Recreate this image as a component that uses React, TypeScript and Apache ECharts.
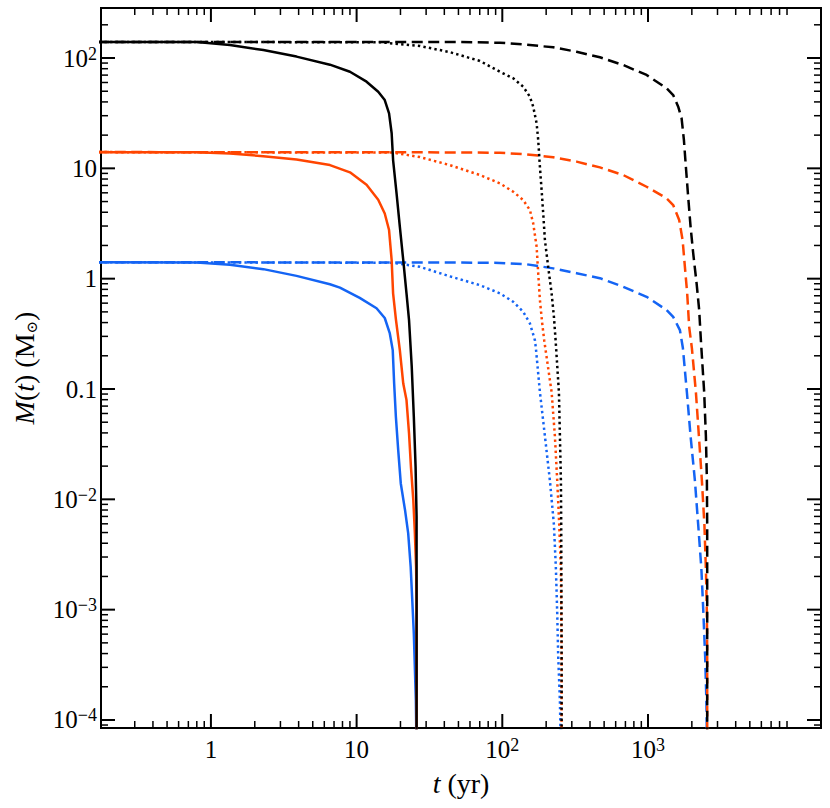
import React, { useEffect, useRef } from "react";
import * as echarts from "echarts";

// Axis extents (log scale)
const X_MIN = 0.176;
const X_MAX = 15400;
const Y_MIN = 8.46e-5;
const Y_MAX = 284;

// Tick values
const xMajorTicks = [1, 10, 100, 1000];
const xMinorTicks = [
  0.3, 0.4, 0.5, 0.6, 0.7, 0.8, 0.9,
  2, 3, 4, 5, 6, 7, 8, 9,
  20, 30, 40, 50, 60, 70, 80, 90,
  200, 300, 400, 500, 600, 700, 800, 900,
  2000, 3000, 4000, 5000, 6000, 7000, 8000, 9000,
];
const yMajorTicks = [1e-4, 1e-3, 1e-2, 0.1, 1, 10, 100];
const yMinorTicks = [
  9e-5,
  2e-4, 3e-4, 4e-4, 5e-4, 6e-4, 7e-4, 8e-4, 9e-4,
  2e-3, 3e-3, 4e-3, 5e-3, 6e-3, 7e-3, 8e-3, 9e-3,
  0.02, 0.03, 0.04, 0.05, 0.06, 0.07, 0.08, 0.09,
  0.2, 0.3, 0.4, 0.5, 0.6, 0.7, 0.8, 0.9,
  2, 3, 4, 5, 6, 7, 8, 9,
  20, 30, 40, 50, 60, 70, 80, 90,
  200,
];

// Tick labels (rich text: b = base, s = superscript)
const xTickValues = [1, 10, 100, 1000];
const xTickLabels = ["{b|1}", "{b|10}", "{b|10}{s|2}", "{b|10}{s|3}"];
const yTickValues = [1e-4, 1e-3, 1e-2, 0.1, 1, 10, 100];
const yTickLabels = [
  "{b|10}{s|\u22124}",
  "{b|10}{s|\u22123}",
  "{b|10}{s|\u22122}",
  "{b|0.1}",
  "{b|1}",
  "{b|10}",
  "{b|10}{s|2}",
];

// Series data: [t (yr), M (Msun)]
const blackSolid = [
  [0.1, 140], [0.8, 140], [1.35, 131], [2.29, 118], [3.87, 103], [6.56, 87],
  [9.0, 75], [11.7, 61], [14.07, 49.5], [15.6, 41.6], [16.7, 31.5], [17.4, 20.8],
  [17.8, 11.9], [18.8, 5.93], [19.8, 2.96], [20.9, 1.47], [22.0, 0.736],
  [22.9, 0.421], [23.9, 0.159], [24.7, 0.056], [25.4, 0.0197], [25.8, 0.00694],
  [25.8, 0.00005],
];
const orangeSolid = [
  [0.1, 14.0], [0.8, 14.0], [1.35, 13.6], [2.29, 12.9], [3.87, 12.0], [6.56, 10.7],
  [9.0, 9.2], [11.7, 7.1], [14.07, 5.2], [15.6, 3.9], [16.7, 2.76], [17.4, 1.47],
  [17.8, 0.736], [18.6, 0.43], [19.8, 0.225], [20.9, 0.112], [22.0, 0.0793],
  [22.9, 0.0396], [23.6, 0.0197], [24.5, 0.00984], [25.1, 0.005], [25.6, 0.00244],
  [25.8, 0.00122], [25.8, 0.00005],
];
const blueSolid = [
  [0.1, 1.41], [0.8, 1.4], [1.35, 1.34], [2.29, 1.22], [3.87, 1.06], [6.56, 0.89],
  [7.68, 0.83], [10.5, 0.67], [13.7, 0.54], [15.6, 0.44], [16.9, 0.319],
  [17.7, 0.225], [18.1, 0.112], [18.6, 0.056], [19.3, 0.0279], [20.1, 0.01393],
  [21.5, 0.00798], [22.6, 0.00491], [23.5, 0.00244], [24.1, 0.00122],
  [24.7, 0.000608], [25.1, 0.000303], [25.5, 0.000151], [25.8, 0.00005],
];
const blackDotted = [
  [0.1, 140], [14.5, 139], [27.2, 128.5], [43.7, 113], [70.2, 94], [96.3, 75.1],
  [118.8, 65.5], [139.2, 54.9], [154.7, 44.6], [163, 36.2], [172, 25.6],
  [176.4, 18.1], [181.2, 10.3], [186.1, 6.36], [190.9, 3.91], [196.1, 2.24],
  [206.5, 1.28], [218, 0.736], [226.1, 0.451], [232.2, 0.277], [244.7, 0.0937],
  [248.6, 0.0374], [252.5, 0.0148], [253.7, 0.00589], [255.3, 0.00037],
  [255.3, 0.00005],
];
const orangeDotted = [
  [0.1, 14.05], [17.7, 13.9], [27.2, 12.65], [43.7, 10.7], [70.2, 8.7], [96.3, 7.31],
  [118.8, 6.14], [139.2, 5.16], [154.7, 4.19], [163, 3.17], [172, 1.95],
  [176.4, 1.12], [181.2, 0.64], [187.9, 0.393], [193.9, 0.277], [218, 0.0937],
  [229.6, 0.0374], [238.2, 0.0148], [245.9, 0.00589], [252.5, 0.0023],
  [255.3, 0.00043], [255.3, 0.00005],
];
const blueDotted = [
  [0.1, 1.41], [17.7, 1.395], [27.2, 1.28], [43.7, 1.05], [70.2, 0.873], [96.3, 0.736],
  [118.8, 0.617], [139.2, 0.501], [154.7, 0.393], [167.4, 0.277], [170, 0.235],
  [181.2, 0.0937], [196.1, 0.0374], [212.2, 0.0148], [226.1, 0.00589],
  [233.3, 0.00235], [238.2, 0.000935], [242, 0.000373], [248.6, 0.000149],
  [252.5, 0.00005],
];
const blackDashed = [
  [0.1, 140], [50, 139.5], [96.3, 137.6], [146.8, 132], [223.6, 125], [323.6, 114],
  [467.8, 101.5], [675.7, 86.4], [978, 70.2], [1342, 53.1], [1489, 46.2],
  [1612, 36.2], [1701, 28.4], [1764, 18.1], [1820, 10.3], [1887, 5.53],
  [1960, 2.96], [2043, 1.7], [2156, 0.906], [2246, 0.519], [2307, 0.277],
  [2430, 0.0937], [2497, 0.0374], [2537, 0.0148], [2549, 0.00589], [2549, 0.00005],
];
const orangeDashed = [
  [0.1, 14.05], [50, 13.95], [96.3, 13.85], [146.8, 13.4], [223.6, 12.6],
  [323.6, 11.5], [467.8, 10.2], [675.7, 8.7], [978, 6.81], [1342, 5.35],
  [1489, 4.65], [1637, 3.4], [1728, 2.24], [1792, 1.28], [1858, 0.736],
  [1917, 0.366], [2001, 0.235], [2132, 0.0937], [2236, 0.0374], [2344, 0.0148],
  [2439, 0.00589], [2497, 0.00235], [2537, 0.000935], [2549, 0.0004], [2549, 0.00005],
];
const blueDashed = [
  [0.1, 1.41], [50, 1.4], [96.3, 1.39], [146.8, 1.35], [223.6, 1.24], [323.6, 1.12],
  [467.8, 1.01], [675.7, 0.845], [978, 0.685], [1342, 0.519], [1489, 0.451],
  [1656, 0.342], [1701, 0.277], [1736, 0.235], [1849, 0.0937], [1960, 0.0374],
  [2099, 0.0148], [2211, 0.00589], [2325, 0.00235], [2400, 0.000935],
  [2469, 0.000373], [2517, 0.000149], [2549, 0.00005],
];

const BLACK = "#000000";
const ORANGE = "#FF4500";
const BLUE = "#1464F4";
const FONT = "Liberation Serif";

const TICK_RICH = {
  b: { fontFamily: FONT, fontSize: 25, lineHeight: 27, fill: "#000" },
  s: { fontFamily: FONT, fontSize: 18, lineHeight: 18, verticalAlign: "top", fill: "#000" },
};

function tickSeries(values: number[], axis: "x" | "y", len: number, width: number) {
  return {
    type: "custom",
    coordinateSystem: "cartesian2d",
    silent: true,
    clip: false,
    z: 10,
    data: values.map((v) => (axis === "x" ? [v, 1] : [1, v])),
    encode: { x: 0, y: 1 },
    renderItem: (params: any, api: any) => {
      const cs = params.coordSys;
      const p = api.coord([api.value(0), api.value(1)]);
      const style = { stroke: "#000", lineWidth: width, lineCap: "butt" };
      if (axis === "x") {
        const x = p[0];
        const yb = cs.y + cs.height;
        return {
          type: "group",
          children: [
            { type: "line", shape: { x1: x, y1: yb, x2: x, y2: yb - len }, style },
            { type: "line", shape: { x1: x, y1: cs.y, x2: x, y2: cs.y + len }, style },
          ],
        };
      }
      const y = p[1];
      const xr = cs.x + cs.width;
      return {
        type: "group",
        children: [
          { type: "line", shape: { x1: cs.x, y1: y, x2: cs.x + len, y2: y }, style },
          { type: "line", shape: { x1: xr, y1: y, x2: xr - len, y2: y }, style },
        ],
      };
    },
  };
}

function labelSeries(values: number[], labels: string[], axis: "x" | "y") {
  return {
    type: "custom",
    coordinateSystem: "cartesian2d",
    silent: true,
    clip: false,
    z: 10,
    data: values.map((v) => (axis === "x" ? [v, 1] : [1, v])),
    encode: { x: 0, y: 1 },
    renderItem: (params: any, api: any) => {
      const cs = params.coordSys;
      const p = api.coord([api.value(0), api.value(1)]);
      const text = labels[params.dataIndex];
      if (axis === "x") {
        return {
          type: "text",
          x: p[0],
          y: cs.y + cs.height + 8,
          style: {
            text,
            rich: TICK_RICH,
            fontFamily: FONT,
            fontSize: 25,
            fill: "#000",
            align: "center",
            verticalAlign: "top",
          },
        };
      }
      return {
        type: "text",
        x: cs.x - 4,
        y: p[1],
        style: {
          text,
          rich: TICK_RICH,
          fontFamily: FONT,
          fontSize: 25,
          fill: "#000",
          align: "right",
          verticalAlign: "middle",
        },
      };
    },
  };
}

function lineSeries(data: number[][], color: string, type: any, z: number) {
  return {
    type: "line",
    data,
    showSymbol: false,
    symbol: "none",
    clip: true,
    z,
    lineStyle: { color, width: 2.5, type, cap: "butt", join: "round" },
  };
}

const DASH = [11, 5.5];
const DOT = [2.4, 3.2];

export default function App() {
  const ref = useRef<HTMLDivElement>(null);
  useEffect(() => {
    document.body.style.margin = "0";
    if (!ref.current) return;
    const chart = echarts.init(ref.current, undefined, { renderer: "svg" });
    const nameRich = {
      i: { fontFamily: FONT, fontSize: 28, fontStyle: "italic", lineHeight: 30, color: "#000" },
      r: { fontFamily: FONT, fontSize: 28, lineHeight: 30, color: "#000" },
      sub: { fontFamily: "DejaVu Serif", fontSize: 15, lineHeight: 15, verticalAlign: "bottom", color: "#000" },
    };
    chart.setOption({
      animation: false,
      backgroundColor: "#ffffff",
      textStyle: { fontFamily: FONT },
      grid: {
        left: 101,
        top: 8,
        width: 720,
        height: 720,
        show: true,
        borderColor: "#000",
        borderWidth: 2,
        backgroundColor: "transparent",
      },
      xAxis: {
        type: "log",
        logBase: 10,
        min: X_MIN,
        max: X_MAX,
        axisLine: { show: false },
        axisTick: { show: false },
        splitLine: { show: false },
        minorTick: { show: false },
        axisLabel: { show: false },
        name: "{i|t}{r| (yr)}",
        nameLocation: "middle",
        nameGap: 40,
        nameTextStyle: { fontFamily: FONT, fontSize: 28, color: "#000", rich: nameRich },
      },
      yAxis: {
        type: "log",
        logBase: 10,
        min: Y_MIN,
        max: Y_MAX,
        axisLine: { show: false },
        axisTick: { show: false },
        splitLine: { show: false },
        minorTick: { show: false },
        axisLabel: { show: false },
        name: "{i|M}{r|(}{i|t}{r|) (M}{sub|\u2299}{r|)}",
        nameLocation: "middle",
        nameGap: 62,
        nameTextStyle: { fontFamily: FONT, fontSize: 28, color: "#000", rich: nameRich },
      },
      series: [
        lineSeries(blueSolid, BLUE, "solid", 2),
        lineSeries(blueDotted, BLUE, DOT, 2),
        lineSeries(blueDashed, BLUE, DASH, 2),
        lineSeries(orangeSolid, ORANGE, "solid", 3),
        lineSeries(orangeDotted, ORANGE, DOT, 3),
        lineSeries(orangeDashed, ORANGE, DASH, 3),
        lineSeries(blackSolid, BLACK, "solid", 4),
        lineSeries(blackDotted, BLACK, DOT, 4),
        lineSeries(blackDashed, BLACK, DASH, 4),
        tickSeries(xMajorTicks, "x", 14, 2),
        tickSeries(xMinorTicks, "x", 7, 1.5),
        tickSeries(yMajorTicks, "y", 14, 2),
        tickSeries(yMinorTicks, "y", 7, 1.5),
        labelSeries(xTickValues, xTickLabels, "x"),
        labelSeries(yTickValues, yTickLabels, "y"),
      ],
    } as any);
    return () => chart.dispose();
  }, []);
  return <div ref={ref} style={{ width: 830, height: 808 }} />;
}
